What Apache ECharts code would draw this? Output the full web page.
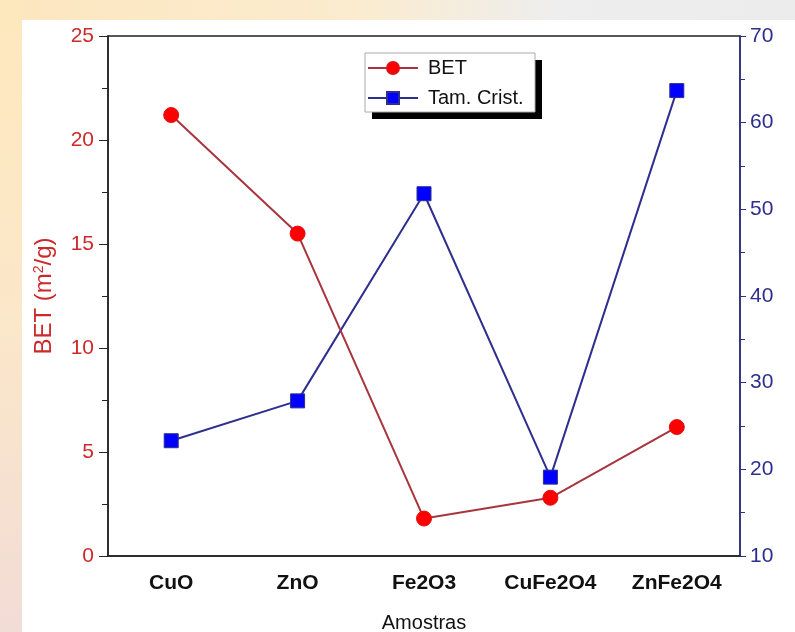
<!DOCTYPE html>
<html>
<head>
<meta charset="utf-8">
<script src="https://cdn.jsdelivr.net/npm/echarts@6/dist/echarts.min.js"></script>
<style>
  html, body { margin: 0; padding: 0; }
  body {
    width: 795px; height: 632px; position: relative; overflow: hidden;
    background: linear-gradient(to right, #fce6bf 0%, #fbeccf 45%, #eeeeee 70%, #ececec 100%);
  }
  .leftStrip {
    position: absolute; left: 0; top: 0; width: 22px; height: 632px;
    background: linear-gradient(to bottom, #fde8bd 0%, #fbe7c9 50%, #f2dcd6 100%);
  }
  .panel { position: absolute; left: 22px; top: 20px; right: 0; bottom: 0; background: #fff; }
  #main { position: absolute; left: 0; top: 0; width: 795px; height: 632px; }
</style>
</head>
<body>
<div class="leftStrip"></div>
<div class="panel"></div>
<div id="main"></div>
<script>
// amostras
var categories = ["CuO", "ZnO", "Fe2O3", "CuFe2O4", "ZnFe2O4"];
// BET (m2/g) - eixo esquerdo
var betValues = [21.2, 15.5, 1.8, 2.8, 6.2];
// tamanho do cristalito - eixo direito
var tamValues = [23.3, 27.9, 51.8, 19.1, 63.7];

var chart = echarts.init(document.getElementById("main"));
chart.setOption({
  animation: false,
  textStyle: { fontFamily: "Liberation Sans, Arial, sans-serif" },
  grid: {
    left: 108,
    right: 55,
    top: 36,
    bottom: 76,
    outerBoundsMode: "none",
    containLabel: false,
    show: true,
    borderColor: "#222",
    borderWidth: 1.5,
    backgroundColor: "transparent"
  },
  // caixa da legenda com sombra preta
  graphic: [
    { type: "rect", z: 50, shape: { x: 372, y: 60, width: 170, height: 59 }, style: { fill: "#000" } },
    { type: "rect", z: 51, shape: { x: 365, y: 53, width: 170, height: 59 }, style: { fill: "#fff", stroke: "#aaa", lineWidth: 1 } }
  ],
  legend: {
    left: 367,
    top: 57,
    z: 60,
    orient: "vertical",
    itemWidth: 50,
    itemHeight: 15,
    itemGap: 8,
    padding: 0,
    textStyle: { fontSize: 20, lineHeight: 22, color: "#111", padding: [0, 0, 0, 5] },
    data: ["BET", "Tam. Crist."]
  },
  xAxis: {
    type: "category",
    data: categories,
    boundaryGap: true,
    name: "Amostras",
    nameLocation: "middle",
    nameGap: 57,
    nameTextStyle: { fontSize: 20, color: "#111" },
    axisLine: { lineStyle: { color: "#222", width: 1.5 } },
    axisTick: { alignWithLabel: true, length: 8, lineStyle: { color: "#222" } },
    axisLabel: { fontSize: 21, fontWeight: "bold", color: "#111", margin: 17 },
    splitLine: { show: false }
  },
  yAxis: [
    {
      type: "value",
      min: 0,
      max: 25,
      interval: 5,
      name: "{a|BET (m}{s|2}{a|/g)}",
      nameLocation: "middle",
      nameGap: 52,
      nameTextStyle: {
        color: "#cc2a2a",
        rich: {
          a: { fontSize: 24, color: "#cc2a2a" },
          s: { fontSize: 14, color: "#cc2a2a", verticalAlign: "top", padding: [0, 0, 10, 0] }
        }
      },
      axisLine: { show: true, lineStyle: { color: "#222", width: 1.5 } },
      axisTick: { show: true, length: 9, lineStyle: { color: "#222" } },
      minorTick: { show: true, splitNumber: 2, length: 6, lineStyle: { color: "#222" } },
      axisLabel: { fontSize: 21, color: "#cc2a2a", margin: 14 },
      splitLine: { show: false }
    },
    {
      type: "value",
      min: 10,
      max: 70,
      interval: 10,
      position: "right",
      axisLine: { show: true, lineStyle: { color: "#2e2e8e", width: 1.5 } },
      axisTick: { show: true, length: 6, lineStyle: { color: "#2e2e8e" } },
      minorTick: { show: true, splitNumber: 2, length: 5, lineStyle: { color: "#2e2e8e" } },
      axisLabel: { fontSize: 21, color: "#2e2e8e", margin: 10 },
      splitLine: { show: false }
    }
  ],
  series: [
    {
      name: "BET",
      type: "line",
      yAxisIndex: 0,
      data: betValues,
      symbol: "circle",
      symbolSize: 15,
      itemStyle: { color: "#ff0000", borderColor: "#e01010", borderWidth: 1 },
      lineStyle: { color: "#a8353d", width: 2 },
      z: 3
    },
    {
      name: "Tam. Crist.",
      type: "line",
      yAxisIndex: 1,
      data: tamValues,
      symbol: "rect",
      symbolSize: 14,
      itemStyle: { color: "#0000ff", borderColor: "#2e2e8e", borderWidth: 1 },
      lineStyle: { color: "#2e2e8e", width: 2 },
      z: 2
    }
  ]
});
</script>
</body>
</html>
